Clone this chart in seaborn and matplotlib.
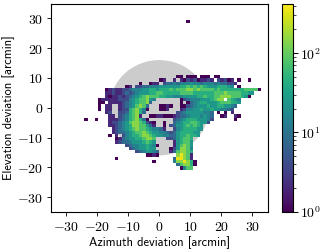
import numpy as np
import matplotlib
matplotlib.use('Agg')
import matplotlib.pyplot as plt
from matplotlib.colors import LogNorm
from matplotlib.patches import Circle
import seaborn as sns

plt.rcParams['mathtext.fontset'] = 'cm'

# 2d histogram, one string per row from the top, one char per bin
n_bins = 64
first_row = 22
level_counts = [1, 2, 4, 8, 15, 25, 45, 80, 150, 350]
lone_bin_row = 5
lone_bin_col = 40
rows = [
    "." * 37 + "00.000.000.00",
    "." * 32 + "01..1.1021201121.21201.0..0",
    "." * 26 + "0..011.2334344454434443433221",
    "." * 22 + "01.22334445555556676767655566654.0",
    "." * 16 + "012112234445566566676777887877776766666667777" + "0",
    "." * 16 + "112112323455566776666677776666" + "66777877776655",
    "." * 16 + "101121234567877766554445555" + "66766" + "77888777650",
    "." * 14 + "011111222456778" + "54" + "......." + "0" + "2344455" + "56788.7654",
    "." * 14 + "00.111123456778" + "3" + "........" + "0.0" + "3456655" + "56777665",
    "." * 14 + "0.11..12345787" + "3...0010..00" + "23455565" + "5665543",
    "." * 14 + "0.11..12267864" + "0...001...1" + "2445565" + "56554432",
    "." * 16 + "12..2236786" + "3" + "." * 9 + "234555554" + "43.0.0.1",
    "." * 17 + "11.2346781..0011000" + "1" + "233455545" + "43..01..10",
    "." * 10 + "0..0...1112346786" + "30......." + "2345666555" + "42......0",
    "." * 17 + "12234578876" + "210..0..3" + "456677655" + "2",
    "." * 17 + "11234568877" + "5" + "31..0.23" + "55676765",
    "." * 18 + "123456787765443" + "1..2" + "45666655",
    "." * 18 + "12334567787" + "65544323" + "5666655",
    "." * 17 + "0.1.24566" + "78876554433566766" + "5",
    "." * 19 + "01345566" + "7887...22" + "356776",
    "." * 19 + "12334555" + "6765.....1" + "56775",
    "." * 22 + "23445" + "5654" + "0....1" + "57875",
    "." * 23 + "23455655" + "....02" + "58874",
    "." * 25 + "2345543" + "...13" + "78876",
    "." * 28 + "0010" + "....." + "89871",
    "." * 19 + "0" + "." * 16 + "399871",
    "." * 30 + "0" + "." * 5 + "4889860",
    "." * 37 + "378860",
    "." * 38 + "0477",
]

# axis ticks in arcmin
span = 35
ticks = [-30, -20, -10, 0, 10, 20, 30]
tick_labels = ['$-30$', '$-20$', '$-10$', '$0$', '$10$', '$20$', '$30$']
circle_radius = 16
vmax = 425

grid = np.full((n_bins, n_bins), np.nan)
grid[lone_bin_row, lone_bin_col] = level_counts[0]
for i, row in enumerate(rows):
    for j, ch in enumerate(row[:n_bins]):
        if ch != '.':
            grid[first_row + i, j] = level_counts[int(ch)]

bin_size = 2 * span / n_bins

fig = plt.figure(figsize=(3.2, 2.52), dpi=100)
ax = fig.add_axes([50.5 / 320, 1 - 212 / 252, 217.5 / 320, 208.5 / 252])
cax = fig.add_axes([281.5 / 320, 1 - 211.5 / 252, 11 / 320, 208 / 252])

sns.heatmap(grid, ax=ax, cbar_ax=cax, cmap='viridis', norm=LogNorm(1, vmax),
            xticklabels=False, yticklabels=False)

ax.add_patch(Circle((n_bins / 2, n_bins / 2), circle_radius / bin_size,
                    color='#cccccc', lw=0, zorder=0))

ax.set_xlim(0, n_bins)
ax.set_ylim(n_bins, 0)
ax.set_xticks([(t + span) / bin_size for t in ticks])
ax.set_xticklabels(tick_labels, fontsize=10)
ax.set_yticks([(span - t) / bin_size for t in ticks])
ax.set_yticklabels(tick_labels, fontsize=10, rotation=0)
ax.tick_params(length=3, width=0.7, pad=2.5, color='#222222')
for s in ax.spines.values():
    s.set_visible(True)
    s.set_linewidth(0.8)
ax.set_xlabel('Azimuth deviation [arcmin]', family='cmss10', fontsize=9, labelpad=2)
ax.set_ylabel('Elevation deviation [arcmin]', family='cmss10', fontsize=9, labelpad=1.5)

cb = ax.collections[0].colorbar
cb.set_ticks([1, 10, 100], labels=['$10^{0}$', '$10^{1}$', '$10^{2}$'])
cb.ax.tick_params(labelsize=10, length=3.5, width=0.7, pad=2)
cb.ax.tick_params(which='minor', length=2, width=0.5)
cb.outline.set_visible(True)
cb.outline.set_linewidth(0.8)

fig.savefig('out.png', dpi=100)
